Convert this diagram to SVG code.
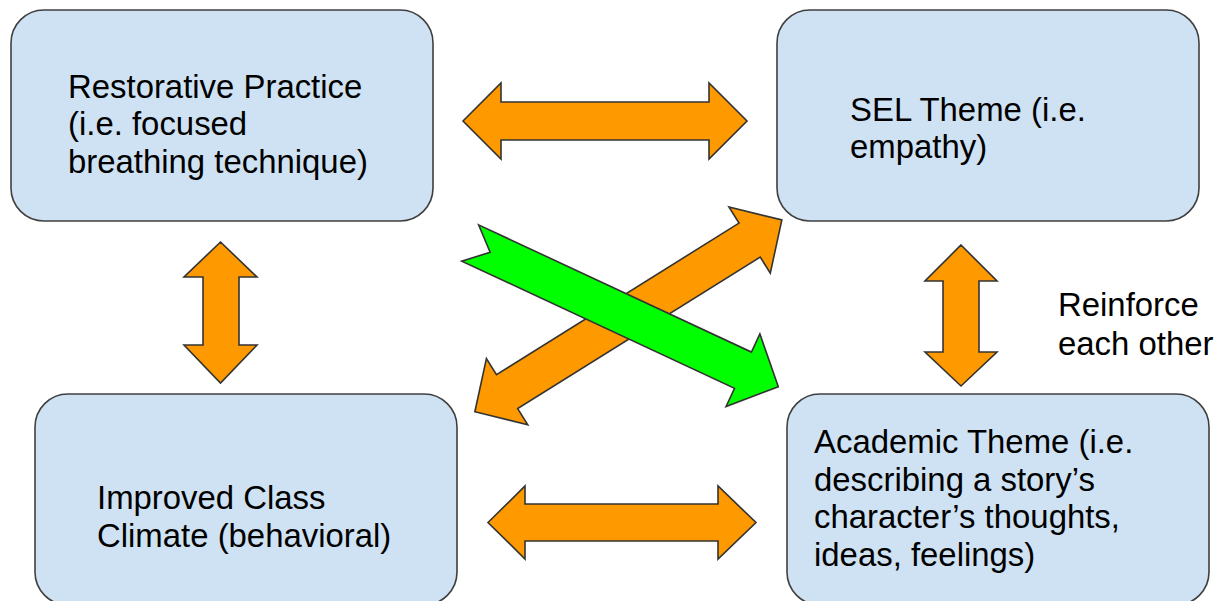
<svg xmlns="http://www.w3.org/2000/svg" width="1219" height="601" viewBox="0 0 1219 601">
  <style>
    .box { fill: #cfe2f3; stroke: #3f3f3f; stroke-width: 1.6; }
    .lbl { font-family: "Liberation Sans", Arial, sans-serif; font-size: 32.9px; fill: #000; }
    .orange { fill: #ff9900; stroke: #333; stroke-width: 1.6; stroke-linejoin: miter; }
    .green { fill: #00ff00; stroke: #333; stroke-width: 1.6; stroke-linejoin: miter; }
  </style>
  <rect width="1219" height="601" fill="#ffffff"/>

  <g id="node-restorative">
    <rect class="box" x="11" y="10" width="422" height="211" rx="33" ry="33"/>
    <text class="lbl" x="68" y="97.5">Restorative Practice</text>
    <text class="lbl" x="68" y="135">(i.e. focused</text>
    <text class="lbl" x="68" y="172.5">breathing technique)</text>
  </g>

  <g id="node-sel">
    <rect class="box" x="777" y="10" width="422" height="211" rx="33" ry="33"/>
    <text class="lbl" x="850" y="120.5">SEL Theme (i.e.</text>
    <text class="lbl" x="850" y="158">empathy)</text>
  </g>

  <g id="node-climate">
    <rect class="box" x="35" y="394" width="422" height="211" rx="33" ry="33"/>
    <text class="lbl" x="97" y="508.5">Improved Class</text>
    <text class="lbl" x="97" y="546.5">Climate (behavioral)</text>
  </g>

  <g id="node-academic">
    <rect class="box" x="787" y="394" width="422" height="211" rx="33" ry="33"/>
    <text class="lbl" x="814" y="453">Academic Theme (i.e.</text>
    <text class="lbl" x="814" y="490.5">describing a story’s</text>
    <text class="lbl" x="814" y="528">character’s thoughts,</text>
    <text class="lbl" x="814" y="565.5">ideas, feelings)</text>
  </g>

  <g id="label-reinforce">
    <text class="lbl" x="1058" y="316">Reinforce</text>
    <text class="lbl" x="1058" y="355">each other</text>
  </g>

  <g id="connectors">
    <polygon class="orange" points="463,121 501,83 501,102 709,102 709,83 747,121 709,159 709,140 501,140 501,159"/>
    <polygon class="orange" points="488,522.5 525,486 525,504 718,504 718,486 756,522.5 718,559 718,541 525,541 525,559"/>
    <polygon class="orange" points="220.5,242 257,277 239,277 239,345 257,345 220.5,383 184,345 203,345 203,277 184,277"/>
    <polygon class="orange" points="961,245 997,281 979,281 979,352 997,352 961,386 925,352 943,352 943,281 925,281"/>
    <polygon class="orange" transform="translate(628.35,315.85) rotate(-32)" points="-181,0 -143,-39 -143,-20 143,-20 143,-39 181,0 143,39 143,20 -143,20 -143,39"/>
    <polygon class="green" transform="translate(624.25,314.85) rotate(25)" points="-170,-20 131,-20 131,-40 170,0 131,40 131,20 -170,20 -148,0"/>
  </g>
</svg>
